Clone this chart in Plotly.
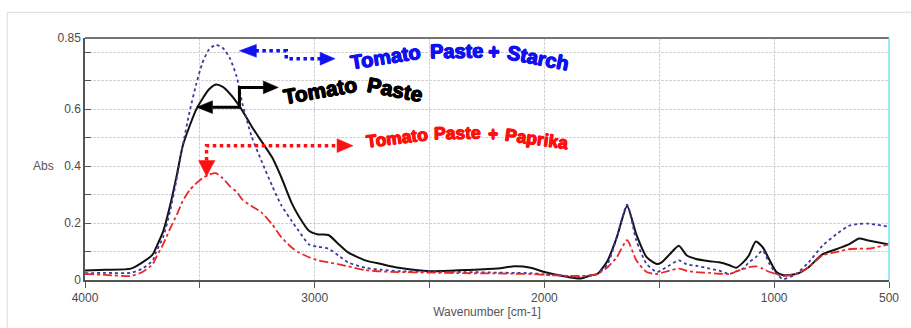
import plotly.graph_objects as go

# Wavenumber grid shared by the three FTIR spectra (cm-1)
wavenumber = [4000, 3910, 3800, 3750, 3705, 3690, 3660, 3630, 3600, 3575, 3545, 3515,
              3490, 3460, 3430, 3400, 3370, 3340, 3315, 3275, 3230, 3185, 3145, 3100,
              3070, 3025, 2985, 2940, 2895, 2855, 2780, 2710, 2635, 2495, 2345, 2205,
              2130, 2060, 2000, 1915, 1845, 1800, 1770, 1725, 1685, 1640, 1600, 1555,
              1510, 1490, 1455, 1415, 1380, 1340, 1280, 1240, 1195, 1165, 1135, 1110,
              1080, 1050, 1020, 990, 960, 905, 850, 790, 730, 675, 630, 590, 500]

abs_paste = [0.033, 0.036, 0.040, 0.062, 0.090, 0.115, 0.170, 0.260, 0.370, 0.470, 0.540, 0.600,
             0.635, 0.670, 0.687, 0.678, 0.655, 0.625, 0.595, 0.540, 0.485, 0.430, 0.360, 0.270,
             0.225, 0.173, 0.160, 0.158, 0.125, 0.097, 0.069, 0.056, 0.043, 0.031, 0.035, 0.040,
             0.048, 0.043, 0.028, 0.013, 0.005, 0.016, 0.021, 0.068, 0.150, 0.260, 0.160, 0.080,
             0.056, 0.062, 0.090, 0.120, 0.086, 0.074, 0.066, 0.062, 0.052, 0.043, 0.062, 0.086,
             0.135, 0.115, 0.070, 0.028, 0.017, 0.021, 0.045, 0.090, 0.108, 0.125, 0.146, 0.139, 0.125]

abs_starch = [0.024, 0.025, 0.025, 0.040, 0.069, 0.100, 0.150, 0.240, 0.360, 0.470, 0.590, 0.690,
              0.760, 0.810, 0.826, 0.815, 0.780, 0.715, 0.620, 0.505, 0.415, 0.330, 0.262, 0.207,
              0.173, 0.125, 0.117, 0.110, 0.085, 0.062, 0.043, 0.036, 0.031, 0.029, 0.028, 0.026,
              0.025, 0.024, 0.020, 0.015, 0.010, 0.015, 0.021, 0.056, 0.150, 0.265, 0.139, 0.056,
              0.028, 0.035, 0.052, 0.069, 0.055, 0.050, 0.040, 0.033, 0.021, 0.030, 0.040, 0.062,
              0.080, 0.104, 0.056, 0.021, 0.003, 0.021, 0.062, 0.120, 0.160, 0.190, 0.197, 0.198, 0.187]

abs_paprika = [0.021, 0.018, 0.014, 0.028, 0.056, 0.080, 0.125, 0.180, 0.230, 0.277, 0.315, 0.340,
               0.357, 0.370, 0.375, 0.357, 0.330, 0.310, 0.282, 0.260, 0.236, 0.195, 0.150, 0.114,
               0.097, 0.080, 0.069, 0.062, 0.055, 0.048, 0.035, 0.030, 0.028, 0.026, 0.024, 0.023,
               0.022, 0.021, 0.018, 0.015, 0.014, 0.016, 0.021, 0.045, 0.080, 0.140, 0.069, 0.028,
               0.021, 0.025, 0.033, 0.040, 0.032, 0.028, 0.025, 0.022, 0.021, 0.030, 0.038, 0.045,
               0.048, 0.040, 0.028, 0.021, 0.014, 0.021, 0.045, 0.086, 0.098, 0.108, 0.110, 0.110, 0.125]

x_tick_vals = [4000, 3500, 3000, 2500, 2000, 1500, 1000, 500]
x_tick_text = ["4000", "", "3000", "", "2000", "", "1000", "500"]
y_tick_vals = [0, 0.1, 0.2, 0.3, 0.4, 0.5, 0.6, 0.7, 0.8, 0.85]
y_tick_text = ["0", "", "0.2", "", "0.4", "", "0.6", "", "", "0.85"]

W, H = 911, 328
ML, MR, MT, MB = 85, 19, 38, 45
PW, PH = W - ML - MR, H - MT - MB


def px(x):
    """Horizontal page pixel -> paper fraction."""
    return (x - ML) / PW


def py(y):
    """Vertical page pixel -> paper fraction."""
    return (H - MB - y) / PH


fig = go.Figure()

fig.add_trace(go.Scatter(x=wavenumber, y=abs_paste, mode="lines", name="Tomato Paste",
                         line=dict(color="#111111", width=2, shape="spline", smoothing=0.6)))
fig.add_trace(go.Scatter(x=wavenumber, y=abs_starch, mode="lines", name="Tomato Paste + Starch",
                         line=dict(color="#3b3b9e", width=1.8, dash="dot", shape="spline", smoothing=0.6)))
fig.add_trace(go.Scatter(x=wavenumber, y=abs_paprika, mode="lines", name="Tomato Paste + Paprika",
                         line=dict(color="#e8282b", width=1.8, dash="dashdot", shape="spline", smoothing=0.6)))

axis_font = dict(family="Liberation Sans, Arial, sans-serif", size=12, color="#4a4a4a")
grid = dict(showgrid=True, gridcolor="#d2d2d2", gridwidth=1, griddash="3px,1px", zeroline=False)

fig.update_xaxes(range=[4000, 500], tickmode="array", tickvals=x_tick_vals, ticktext=x_tick_text,
                 ticks="outside", ticklen=6, tickcolor="#555555", showline=True, linecolor="#555555",
                 linewidth=1.5, tickfont=axis_font,
                 title=dict(text="Wavenumber [cm-1]", font=dict(family=axis_font["family"], size=12,
                                                               color="#555555"), standoff=2),
                 **grid)
fig.update_yaxes(range=[0, 0.85], tickmode="array", tickvals=y_tick_vals, ticktext=y_tick_text,
                 ticks="inside", ticklen=6, tickcolor="#555555", showline=True, linecolor="#555555",
                 linewidth=1.5, tickfont=axis_font, **grid)

shapes = []
# outer panel frame
shapes.append(dict(type="rect", xref="paper", yref="paper", x0=px(7), x1=px(940), y0=py(360), y1=py(12),
                   line=dict(color="#e2e2e2", width=1.2), fillcolor="rgba(0,0,0,0)", layer="below"))
# top border of the plot area and cyan cursor edge on the right
shapes.append(dict(type="line", xref="paper", yref="paper", x0=0, x1=1, y0=1, y1=1,
                   line=dict(color="#747474", width=2.2)))
shapes.append(dict(type="line", xref="paper", yref="paper", x0=1, x1=1, y0=0, y1=1,
                   line=dict(color="#78e6f2", width=1.6)))


def poly(points, color, width, dash="solid"):
    path = "M " + " L ".join(f"{px(a):.5f},{py(b):.5f}" for a, b in points)
    return dict(type="path", xref="paper", yref="paper", path=path,
                line=dict(color=color, width=width, dash=dash))


def head(points, color):
    path = "M " + " L ".join(f"{px(a):.5f},{py(b):.5f}" for a, b in points) + " Z"
    return dict(type="path", xref="paper", yref="paper", path=path,
                fillcolor=color, line=dict(color=color, width=0.5))


BLUE, BLACK, RED = "#1010f0", "#000000", "#ff1010"

# double arrow for the starch spectrum
shapes.append(poly([(256, 51), (287, 51), (287, 59), (322, 59)], BLUE, 3.5, "dot"))
shapes.append(head([(240, 51), (257, 44.5), (257, 57.5)], BLUE))
shapes.append(head([(336, 59), (321, 52.5), (321, 65.5)], BLUE))

# double arrow for plain tomato paste
shapes.append(poly([(265, 88), (240, 88), (240, 108), (213, 108)], BLACK, 3))
shapes.append(head([(279, 88), (264, 81.5), (264, 94.5)], BLACK))
shapes.append(head([(197, 108), (213, 101.5), (213, 114.5)], BLACK))

# double arrow for the paprika spectrum
shapes.append(poly([(207, 162), (207, 147), (339, 147)], RED, 3.5, "dot"))
shapes.append(head([(207, 178), (199, 162), (215.5, 162)], RED))
shapes.append(head([(354, 147), (338, 140), (338, 154)], RED))

label_family = "Liberation Sans, Arial, sans-serif"
annotations = []


def word(text, x, y, angle, color, size):
    # a thin same-colour text shadow gives the heavy poster-style lettering
    heavy = ", ".join(f"{dx}px {dy}px 0 {color}" for dx, dy in
                      [(0.6, 0), (-0.6, 0), (0, 0.6), (0, -0.6)])
    annotations.append(dict(text=f"<b>{text}</b>", xref="paper", yref="paper", x=px(x), y=py(y),
                            xanchor="center", yanchor="middle", showarrow=False, textangle=angle,
                            font=dict(family=label_family, size=size, color=color, shadow=heavy)))


# arched curve labels
word("Tomato", 387, 57, -9, BLUE, 20)
word("Paste", 458, 51, -1, BLUE, 20)
word("+", 496, 52, 0, BLUE, 20)
word("Starch", 540, 58, 11, BLUE, 20)

word("Tomato", 321, 91, -10, BLACK, 21)
word("Paste", 396, 90, 11, BLACK, 21)

word("Tomato", 398, 139, -7, RED, 17.5)
word("Paste", 459, 134, -1, RED, 17.5)
word("+", 495, 135, 0, RED, 17.5)
word("Paprika", 539, 140, 8, RED, 17.5)

# y axis caption drawn horizontally beside the ticks
annotations.append(dict(text="Abs", xref="paper", yref="paper", x=px(43), y=py(168),
                        xanchor="center", yanchor="middle", showarrow=False,
                        font=dict(family=label_family, size=12, color="#555555")))

fig.update_layout(width=W, height=H, margin=dict(l=ML, r=MR, t=MT, b=MB),
                  paper_bgcolor="white", plot_bgcolor="white", showlegend=False,
                  shapes=shapes, annotations=annotations)

fig.write_html("out.html")
